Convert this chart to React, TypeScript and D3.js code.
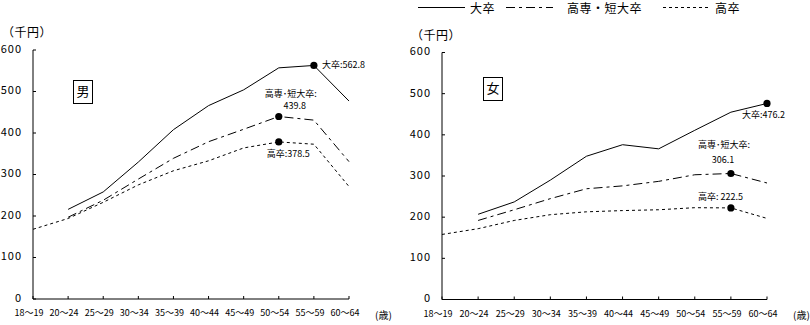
import React from "react";
import * as d3 from "d3";

const ages = ["18〜19", "20〜24", "25〜29", "30〜34", "35〜39", "40〜44", "45〜49", "50〜54", "55〜59", "60〜64"];
const yTicks = [0, 100, 200, 300, 400, 500, 600];

const maleUniv: (number | null)[] = [null, 216, 258, 330, 408, 466, 504, 557, 562.8, 477];
const maleJunior: (number | null)[] = [null, 197, 238, 289, 339, 379, 409, 439.8, 431, 331];
const maleHigh: (number | null)[] = [168, 194, 233, 275, 309, 333, 364, 378.5, 373, 271];

const femaleUniv: (number | null)[] = [null, 207, 237, 290, 348, 376, 366, 411, 455, 476.2];
const femaleJunior: (number | null)[] = [null, 192, 218, 245, 269, 276, 287, 303, 306.1, 283];
const femaleHigh: (number | null)[] = [158, 172, 192, 206, 213, 216, 218, 223, 222.5, 197];

const seriesNames = ["大卒", "高専・短大卒", "高卒"];
const dashes = ["none", "9,4,3,4", "3,3"];

const JP = "'Noto Sans CJK JP', 'DejaVu Sans', sans-serif";

type Panel = {
  gender: string;
  x0: number; x1: number; yBottom: number; yTop: number;
  series: (number | null)[][];
  markIdx: number[];
  box: [number, number];
};

const panels: Panel[] = [
  { gender: "男", x0: 33, x1: 349, yBottom: 299, yTop: 50, series: [maleUniv, maleJunior, maleHigh], markIdx: [8, 7, 7], box: [73, 80] },
  { gender: "女", x0: 442, x1: 767, yBottom: 299.5, yTop: 52.5, series: [femaleUniv, femaleJunior, femaleHigh], markIdx: [9, 8, 8], box: [483, 77] },
];

function ChartPanel({ p, pi }: { p: Panel; pi: number }) {
  const x = d3.scalePoint<string>().domain(ages).range([p.x0, p.x1]);
  const y = d3.scaleLinear().domain([0, 600]).range([p.yBottom, p.yTop]);
  const line = d3
    .line<number | null>()
    .defined((d) => d != null)
    .x((_, i) => x(ages[i]) as number)
    .y((d) => y(d as number));

  const mk = p.series.map((s, k) => ({ cx: x(ages[p.markIdx[k]]) as number, cy: y(s[p.markIdx[k]] as number), v: s[p.markIdx[k]] as number }));

  return (
    <g>
      {/* unit */}
      <text x={p.x0 - 31} y={p.yTop - 16} fontSize={12} letterSpacing={0.5} fontFamily={JP} dominantBaseline="middle">（千円）</text>
      {/* y axis */}
      <line x1={p.x0} x2={p.x0} y1={p.yTop} y2={p.yBottom} stroke="#000" strokeWidth={1} />
      {yTicks.map((t) => (
        <g key={t}>
          <line x1={p.x0} x2={p.x0 + 3} y1={y(t)} y2={y(t)} stroke="#000" />
          <text x={p.x0 - 11} y={y(t)} textAnchor="end" dominantBaseline="middle" fontSize={11} letterSpacing={1} fontFamily={JP}>{t}</text>
        </g>
      ))}
      {/* x axis */}
      <line x1={p.x0} x2={p.x1} y1={p.yBottom} y2={p.yBottom} stroke="#000" />
      {ages.map((a) => (
        <g key={a}>
          <line x1={x(a)} x2={x(a)} y1={p.yBottom} y2={p.yBottom - 3} stroke="#000" />
          <text x={(x(a) as number) - 4} y={p.yBottom + 15} textAnchor="middle" dominantBaseline="middle" fontSize={9} fontFamily={JP}>{a}</text>
        </g>
      ))}
      <text x={p.x1 + 26} y={p.yBottom + 17} fontSize={10} fontFamily={JP} dominantBaseline="middle">(歳)</text>
      {/* gender box */}
      <rect x={p.box[0] + 0.5} y={p.box[1] + 0.5} width={19} height={23} fill="none" stroke="#000" />
      <text x={p.box[0] + 10} y={p.box[1] + 12.5} textAnchor="middle" dominantBaseline="middle" fontSize={13} fontFamily={JP}>{p.gender}</text>
      {/* lines */}
      {p.series.map((s, k) => (
        <path key={k} d={line(s) || ""} fill="none" stroke="#000" strokeWidth={1} strokeDasharray={dashes[k]} />
      ))}
      {mk.map((m, k) => (
        <circle key={k} cx={m.cx} cy={m.cy} r={3.6} fill="#000" />
      ))}
      {/* annotations */}
      {pi === 0 ? (
        <g fontSize={9} fontFamily={JP}>
          <text x={mk[0].cx + 8} y={mk[0].cy} dominantBaseline="middle">大卒:{mk[0].v}</text>
          <text x={mk[1].cx - 14} y={mk[1].cy - 22} dominantBaseline="middle">高専･短大卒:</text>
          <text x={mk[1].cx + 16} y={mk[1].cy - 10} textAnchor="middle" dominantBaseline="middle">{mk[1].v}</text>
          <text x={mk[2].cx - 12} y={mk[2].cy + 13} dominantBaseline="middle">高卒:{mk[2].v}</text>
        </g>
      ) : (
        <g fontSize={9} fontFamily={JP}>
          <text x={mk[0].cx - 25} y={mk[0].cy + 12} dominantBaseline="middle">大卒:{mk[0].v}</text>
          <text x={mk[1].cx - 33} y={mk[1].cy - 28} dominantBaseline="middle">高専･短大卒:</text>
          <text x={mk[1].cx - 8} y={mk[1].cy - 13} textAnchor="middle" dominantBaseline="middle">{mk[1].v}</text>
          <text x={mk[2].cx - 33} y={mk[2].cy - 10} dominantBaseline="middle">高卒: {mk[2].v}</text>
        </g>
      )}
    </g>
  );
}

const legendX = [418, 506, 663];

export default function App() {
  return (
    <svg width={810} height={325} style={{ position: "absolute", left: 0, top: 0, background: "#fff" }}>
      <rect width={810} height={325} fill="#fff" />
      {seriesNames.map((n, k) => (
        <g key={n}>
          <line x1={legendX[k]} x2={legendX[k] + 47} y1={7.5} y2={7.5} stroke="#000" strokeDasharray={dashes[k]} />
          <text x={legendX[k] + (k === 1 ? 61 : 52)} y={9.5} dominantBaseline="middle" fontSize={12} letterSpacing={0.5} fontFamily={JP}>{n}</text>
        </g>
      ))}
      {panels.map((p, i) => (
        <ChartPanel key={i} p={p} pi={i} />
      ))}
    </svg>
  );
}
